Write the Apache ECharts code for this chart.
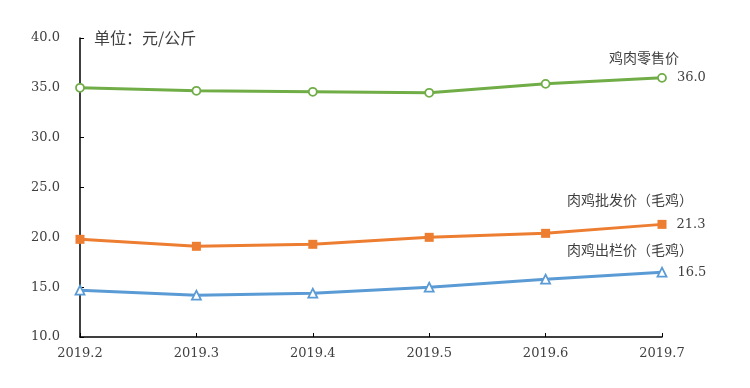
<!DOCTYPE html>
<html><head><meta charset="utf-8">
<script src="https://cdn.jsdelivr.net/npm/echarts@6/dist/echarts.min.js"></script>
<style>html,body{margin:0;padding:0;background:#fff}#c{width:750px;height:388px}</style>
</head><body><div id="c"></div>
<script>
var categories = ['2019.2','2019.3','2019.4','2019.5','2019.6','2019.7'];
var retail = [35.0, 34.7, 34.6, 34.5, 35.4, 36.0];
var wholesale = [19.8, 19.1, 19.3, 20.0, 20.4, 21.3];
var farmgate = [14.7, 14.2, 14.4, 15.0, 15.8, 16.5];
var names = ['鸡肉零售价', '肉鸡批发价（毛鸡）', '肉鸡出栏价（毛鸡）'];
var yTicks = [10, 15, 20, 25, 30, 35, 40];
var unitText = '单位：元/公斤';

var FONT = '"DejaVu Serif","Noto Sans CJK SC",serif';
var CJK = '"Noto Sans CJK SC",sans-serif';
var colors = ['#70AD47', '#ED7D31', '#5B9BD5'];
var nameOffsets = [[-18, -20], [-32, -25], [-32, -23]];

function mk(idx, data, symbol, size, hollow) {
  var name = names[idx], color = colors[idx];
  var last = data.length - 1;
  return {
    name: name, type: 'line', data: data.map(function (v, i) {
      var d = { value: v };
      if (i === last) {
        d.label = { show: true, position: 'right', distance: 10, formatter: v.toFixed(1),
          color: '#404040', fontFamily: FONT, fontSize: 13 };
      }
      return d;
    }),
    symbol: symbol, symbolSize: size, showSymbol: true,
    lineStyle: { color: color, width: 3 },
    itemStyle: { color: hollow ? '#fff' : color, borderColor: color, borderWidth: hollow ? 1.8 : 0 },
    label: { show: false },
    markPoint: {
      symbol: 'circle', symbolSize: 0,
      data: [{ coord: [categories[last], data[last]], value: name }],
      label: { show: true, formatter: name, offset: nameOffsets[idx], color: '#404040',
        fontFamily: CJK, fontSize: 14 }
    },
    animation: false
  };
}

var chart = echarts.init(document.getElementById('c'));
chart.setOption({
  animation: false,
  grid: { left: 80, right: 88, top: 38, bottom: 51 },
  xAxis: {
    type: 'category', data: categories, boundaryGap: false,
    axisLine: { lineStyle: { color: '#000', width: 1.5 } },
    axisTick: { show: true, inside: true, length: 4, lineStyle: { color: '#000' } },
    axisLabel: { color: '#404040', fontFamily: FONT, fontSize: 13, margin: 10 }
  },
  yAxis: {
    type: 'value', min: 10, max: 40, interval: 5,
    axisLine: { show: true, lineStyle: { color: '#000', width: 1.5 } },
    axisTick: { show: true, inside: true, length: 4, lineStyle: { color: '#000' } },
    splitLine: { show: false },
    axisLabel: { color: '#404040', fontFamily: FONT, fontSize: 13, margin: 20,
      formatter: function (v) { return yTicks.indexOf(v) >= 0 ? v.toFixed(1) : ''; } }
  },
  graphic: [{ type: 'text', left: 94, top: 30,
    style: { text: unitText, fill: '#404040', font: '16px ' + CJK } }],
  series: [
    mk(0, retail, 'circle', 8, true),
    mk(1, wholesale, 'rect', 9, false),
    mk(2, farmgate, 'triangle', 9, true)
  ]
});
</script></body></html>
